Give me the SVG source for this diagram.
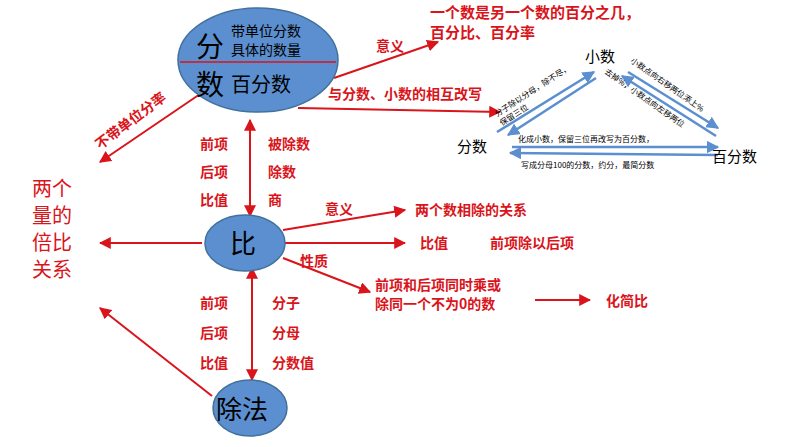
<svg xmlns="http://www.w3.org/2000/svg" width="794" height="447" viewBox="0 0 794 447">
<defs>
<marker id="ar" viewBox="0 0 10 10" refX="9" refY="5" markerWidth="6" markerHeight="6" orient="auto"><path d="M0,0L10,5L0,10z" fill="#d9141b"/></marker>
<marker id="ab" viewBox="0 0 10 10" refX="9" refY="5" markerWidth="5" markerHeight="5" orient="auto"><path d="M0,0L10,5L0,10z" fill="#5b8fcf"/></marker>
</defs>
<style>
text{font-family:"Noto Sans CJK SC","Liberation Sans",sans-serif}
.r{fill:#d9141b;font-size:14px;font-weight:bold}
.big{font-size:20px;font-weight:normal}
.k{fill:#000}
.e{fill:#5b8fcf;stroke:#41719c;stroke-width:1.5}
.c path{fill:none;stroke:#d9141b;stroke-width:2;marker-end:url(#ar)}
.b path{fill:none;stroke:#5b8fcf;stroke-width:2.5;marker-end:url(#ab)}
</style>
<rect width="794" height="447" fill="#fff"/>
<g class="c">
<path d="M334,78L438,42"/>
<path d="M298,108L500,112"/>
<path d="M206,90L100,162"/>
<path d="M202,243L100,243"/>
<path d="M212,396L100,308"/>
<path d="M250,120L250,216"/>
<path d="M250,216L250,120"/>
<path d="M252,268L252,380"/>
<path d="M252,380L252,268"/>
<path d="M283,230L405,210"/>
<path d="M285,243L405,243"/>
<path d="M283,258L370,292"/>
<path d="M535,300L590,300"/>
</g>
<g class="b">
<path d="M497,132L594,72"/>
<path d="M596,78L508,135"/>
<path d="M628,72L718,128"/>
<path d="M716,136L622,76"/>
<path d="M512,147L718,147"/>
<path d="M718,155L510,153"/>
</g>
<g id="n1"><ellipse class="e" cx="258" cy="60" rx="80" ry="52"/>
<line x1="180" y1="62" x2="336" y2="62" stroke="#d9141b" stroke-width="1.5"/>
<text x="196" y="57" font-size="28" class="k">分</text>
<text x="196" y="95" font-size="28" class="k">数</text>
<text x="231" y="36" font-size="14" class="k">带单位分数</text>
<text x="231" y="55" font-size="14" class="k">具体的数量</text>
<text x="231" y="92" font-size="20" class="k">百分数</text></g>
<g id="n2"><ellipse class="e" cx="245" cy="243" rx="40" ry="28"/><text x="230" y="253" font-size="26" class="k">比</text></g>
<g id="n3"><ellipse class="e" cx="250" cy="408" rx="37" ry="28"/><text x="216" y="419" font-size="26" class="k">除法</text></g>
<g id="labels">
<text x="430" y="18" class="r" style="font-size:15px">一个数是另一个数的百分之几，</text>
<text x="430" y="38" class="r" style="font-size:15px">百分比、百分率</text>
<text x="376" y="51" class="r">意义</text>
<text x="328" y="99" class="r">与分数、小数的相互改写</text>
<text class="r" transform="translate(100,150) rotate(-37)">不带单位分率</text>
<text x="32" y="196" class="r big">两个</text>
<text x="32" y="223" class="r big">量的</text>
<text x="32" y="250" class="r big">倍比</text>
<text x="32" y="277" class="r big">关系</text>
<text x="200" y="149" class="r">前项</text><text x="200" y="177" class="r">后项</text><text x="200" y="205" class="r">比值</text>
<text x="268" y="149" class="r">被除数</text><text x="268" y="177" class="r">除数</text><text x="268" y="205" class="r">商</text>
<text x="325" y="214" class="r">意义</text>
<text x="415" y="215" class="r">两个数相除的关系</text>
<text x="420" y="248" class="r">比值</text>
<text x="490" y="248" class="r">前项除以后项</text>
<text x="300" y="266" class="r">性质</text>
<text x="375" y="290" class="r">前项和后项同时乘或</text>
<text x="375" y="309" class="r">除同一个不为0的数</text>
<text x="606" y="306" class="r">化简比</text>
<text x="200" y="308" class="r">前项</text><text x="200" y="338" class="r">后项</text><text x="200" y="368" class="r">比值</text>
<text x="272" y="308" class="r">分子</text><text x="272" y="338" class="r">分母</text><text x="272" y="368" class="r">分数值</text>
<text x="585" y="62" font-size="15" class="k">小数</text>
<text x="457" y="152" font-size="15" class="k">分数</text>
<text x="712" y="162" font-size="15" class="k">百分数</text>
<text font-size="8" class="k" transform="translate(497,117) rotate(-33)">分子除以分母，除不尽，</text>
<text font-size="8" class="k" transform="translate(502,126) rotate(-33)">保留三位</text>
<text font-size="8" class="k" transform="translate(604,73) rotate(35)">去掉%，小数点向左移两位</text>
<text font-size="8" class="k" transform="translate(630,62) rotate(35)">小数点向右移两位添上%</text>
<text x="518" y="142" font-size="8" class="k">化成小数，保留三位再改写为百分数，</text>
<text x="521" y="168" font-size="8" class="k">写成分母100的分数，约分，最简分数</text>
</g>
</svg>
